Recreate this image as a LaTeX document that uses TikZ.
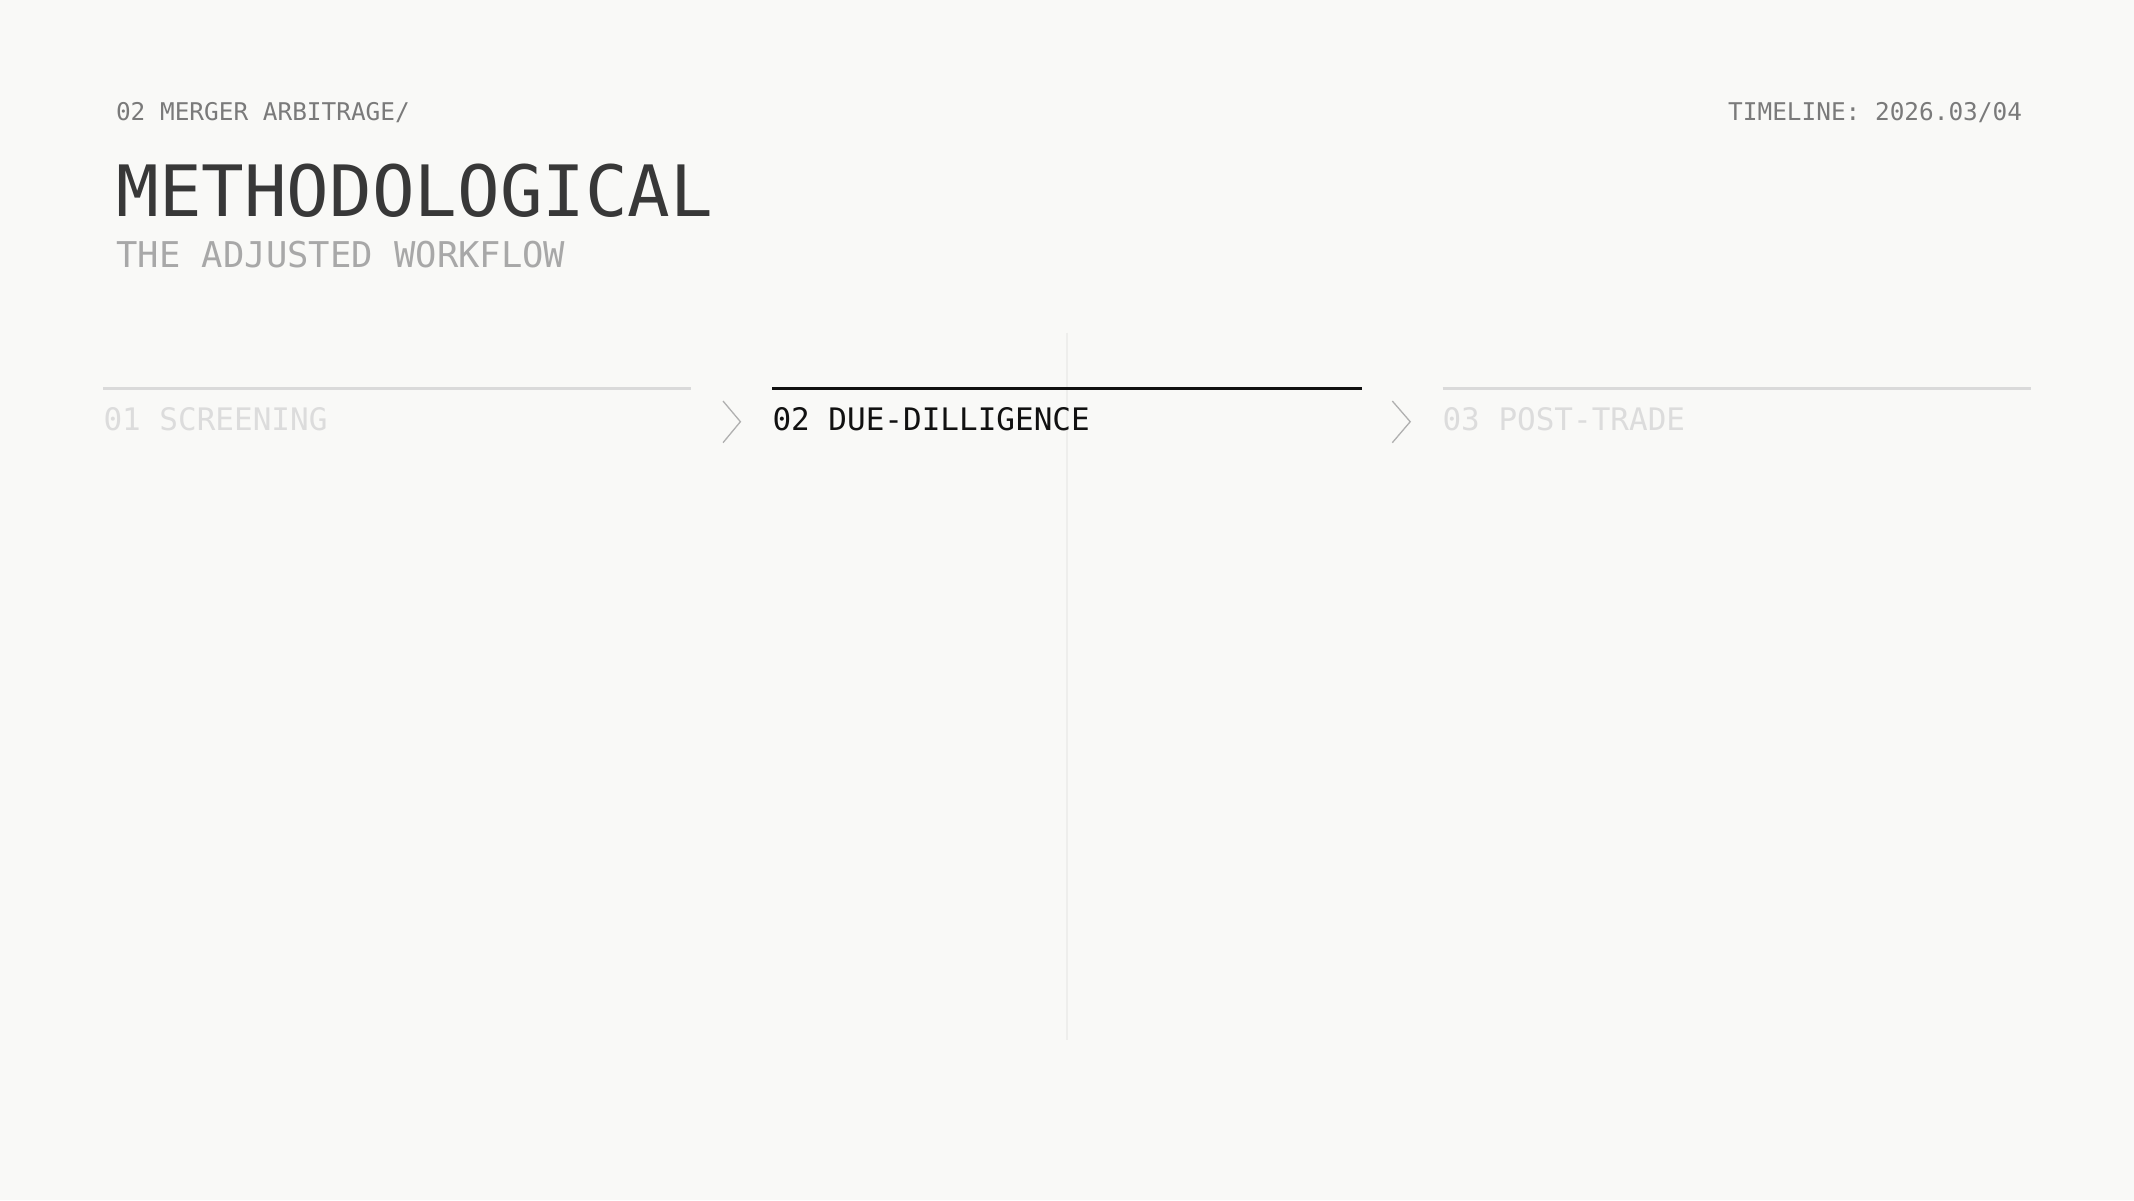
\documentclass[tikz,border=0pt]{standalone}
\usepackage{fontspec}
\newfontfamily\mono{DejaVu Sans Mono}
\definecolor{bg}{HTML}{F9F9F7}
\definecolor{crumbc}{HTML}{7A7A7A}
\definecolor{titlec}{HTML}{383838}
\definecolor{subc}{HTML}{A8A8A8}
\definecolor{offc}{HTML}{DCDCDC}
\definecolor{onc}{HTML}{111111}
\definecolor{rulec}{HTML}{DADADA}
\definecolor{chevc}{HTML}{B0B0B0}
\definecolor{vlinec}{HTML}{EEEEEC}
\begin{document}
\begin{tikzpicture}[x=1pt,y=1pt,
  txt/.style={inner sep=0pt, outer sep=0pt},
  crumbtxt/.style={txt, text=crumbc, font=\mono\fontsize{24.4}{28}\selectfont},
  titletxt/.style={txt, text=titlec, font=\mono\fontsize{70.8}{80}\selectfont},
  subtxt/.style={txt, text=subc, font=\mono\fontsize{35.5}{40}\selectfont},
  stagetxt/.style={txt, font=\mono\fontsize{31}{36}\selectfont},
  offrule/.style={draw=rulec, line width=2.5pt},
  onrule/.style={draw=onc, line width=3pt},
  chev/.style={draw=chevc, line width=1.3pt},
  vrule/.style={draw=vlinec, line width=2pt}
]
\useasboundingbox (0,0) rectangle (2134,-1200);
\fill[bg] (0,0) rectangle (2134,-1200);
% centre guide line
\coordinate (vtop) at (1067.3,-332.7);
\coordinate (vbot) at (1067.3,-1040);
\draw[vrule] (vtop) -- (vbot);
% header
\node[crumbtxt, anchor=base west] (crumb) at (116,-120.8) {02 MERGER ARBITRAGE/};
\node[crumbtxt, anchor=base east] (timeline) at (2022,-120.8) {TIMELINE: 2026.03/04};
\node[titletxt, anchor=base west] (title) at (116.5,-216.5) {METHODOLOGICAL};
\node[subtxt, anchor=base west] (subtitle) at (116.5,-267.5) {THE ADJUSTED WORKFLOW};
% stage rules
\coordinate (r1a) at (103.4,-388.3); \coordinate (r1b) at (691.3,-388.3);
\coordinate (r2a) at (772.4,-388.3); \coordinate (r2b) at (1361.7,-388.3);
\coordinate (r3a) at (1442.6,-388.3); \coordinate (r3b) at (2031,-388.3);
\draw[offrule] (r1a) -- (r1b);
\draw[onrule] (r2a) -- (r2b);
\draw[offrule] (r3a) -- (r3b);
% stage labels
\node[stagetxt, text=offc, anchor=base west] (s1) at (103.5,-430.5) {01 SCREENING};
\node[stagetxt, text=onc, anchor=base west] (s2) at (772.5,-430.5) {02 DUE-DILLIGENCE};
\node[stagetxt, text=offc, anchor=base west] (s3) at (1442.5,-430.5) {03 POST-TRADE};
% chevrons
\coordinate (c1t) at (723,-401); \coordinate (c1m) at (740.4,-421.7); \coordinate (c1b) at (723,-442.7);
\coordinate (c2t) at (1392.3,-401); \coordinate (c2m) at (1410.2,-421.7); \coordinate (c2b) at (1392.3,-442.7);
\draw[chev] (c1t) -- (c1m) -- (c1b);
\draw[chev] (c2t) -- (c2m) -- (c2b);
\end{tikzpicture}
\end{document}
